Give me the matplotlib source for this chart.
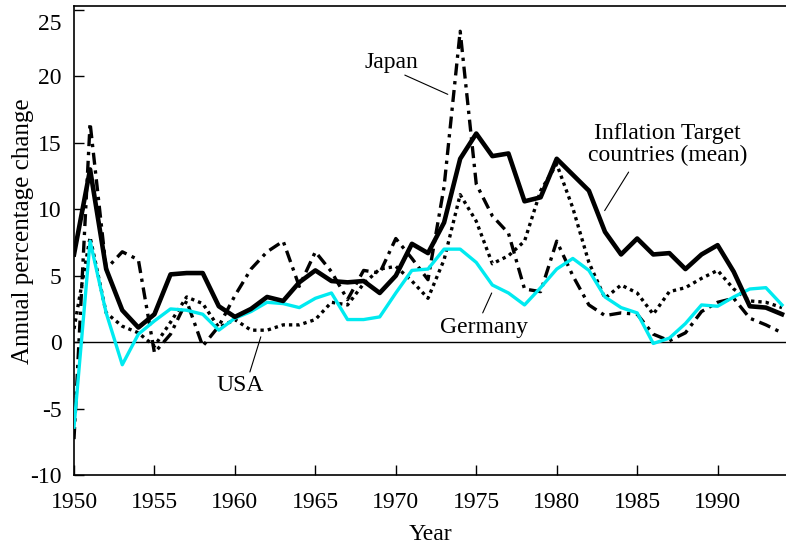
import numpy as np
import matplotlib
matplotlib.use("Agg")
import matplotlib.pyplot as plt
import matplotlib.transforms as mtransforms

# annual inflation, 1950-1994
years = np.arange(1950, 1995)

infl_target = [6.6, 13.0, 5.5, 2.4, 1.1, 2.1, 5.1, 5.2, 5.2, 2.7,
               1.9, 2.5, 3.4, 3.1, 4.5, 5.4, 4.6, 4.5, 4.6, 3.7,
               5.0, 7.4, 6.7, 9.0, 13.8, 15.7, 14.0, 14.2, 10.6, 10.9,
               13.8, 12.6, 11.4, 8.3, 6.6, 7.8, 6.6, 6.7, 5.5, 6.6,
               7.3, 5.3, 2.7, 2.6, 2.1]

germany = [-6.4, 7.6, 2.2, -1.7, 0.6, 1.6, 2.5, 2.4, 2.1, 0.9,
           1.8, 2.3, 3.0, 2.9, 2.6, 3.3, 3.7, 1.7, 1.7, 1.9,
           3.7, 5.4, 5.5, 7.0, 7.0, 6.0, 4.3, 3.7, 2.8, 4.1,
           5.5, 6.3, 5.4, 3.4, 2.6, 2.2, -0.1, 0.3, 1.4, 2.8,
           2.7, 3.4, 4.0, 4.1, 2.8]

usa = [1.0, 7.9, 2.2, 1.2, 0.7, -0.3, 1.5, 3.4, 2.9, 1.1,
       1.7, 0.9, 0.9, 1.3, 1.3, 1.7, 3.0, 2.8, 4.4, 5.5,
       5.7, 4.6, 3.3, 6.2, 11.1, 9.1, 5.9, 6.5, 7.6, 11.4,
       13.4, 10.1, 6.0, 3.3, 4.3, 3.7, 2.1, 3.8, 4.1, 4.8,
       5.4, 4.0, 3.1, 3.0, 2.6]

japan = [-7.3, 16.5, 5.5, 6.8, 6.2, -0.8, 0.6, 3.1, -0.3, 1.2,
         3.5, 5.5, 6.8, 7.6, 4.2, 6.8, 5.3, 3.2, 5.4, 5.2,
         7.8, 6.3, 4.7, 11.7, 23.4, 11.9, 9.5, 8.2, 4.0, 3.8,
         7.6, 5.0, 2.8, 2.0, 2.2, 2.1, 0.6, 0.1, 0.7, 2.3,
         3.0, 3.3, 1.8, 1.3, 0.7]

# label text, text position, leader line (start, end) in data units
labels = ['Japan', 'Inflation Target\ncountries (mean)', 'Germany', 'USA']
label_pos = [(1969.75, 21.05), (1986.9, 14.9), (1975.47, 1.1), (1960.3, -3.3)]
leader_from = [(1970.56, 20.1), (1984.47, 12.8), (1975.96, 3.7), (1961.61, 0.4)]
leader_to = [(1973.23, 18.65), (1982.98, 9.9), (1975.4, 2.2), (1960.93, -2.25)]

plt.rcParams['font.family'] = ['Liberation Serif', 'DejaVu Serif']
plt.rcParams['axes.unicode_minus'] = False

fig = plt.figure(figsize=(7.86, 5.45), dpi=100)
ax = fig.add_axes([74 / 786, 1 - 475 / 545, 1 - 74 / 786, (475 - 6) / 545])

ax.axhline(0, color='black', lw=1.0, zorder=1)

ax.plot(years, japan, color='black', lw=2.4, dashes=(3.6, 1.7, 1.0, 1.7), zorder=2)
ax.plot(years, usa, color='black', lw=2.4, dashes=(1.0, 1.2), zorder=2)
ax.plot(years, germany, color='#00eaf0', lw=2.4, zorder=3)
ax.plot(years, infl_target, color='black', lw=3.3, zorder=4)

ax.set_xlim(1950, 1994.25)
ax.set_ylim(-10, 25.3)
ax.set_xticks(np.arange(1950, 1991, 5))
ax.set_yticks(np.arange(-10, 26, 5))
ax.tick_params(direction='in', length=7, width=1, labelsize=17, color='black')
ax.tick_params(axis='x', pad=12)
ax.tick_params(axis='y', pad=9)
ax.spines['right'].set_visible(False)
for s in ['left', 'bottom', 'top']:
    ax.spines[s].set_linewidth(1.2)

# the top label sits a little lower in the original
lbl = ax.get_yticklabels()[-1]
lbl.set_transform(lbl.get_transform() + mtransforms.ScaledTranslation(0, -12 / 100, fig.dpi_scale_trans))

ax.set_xlabel('Year', fontsize=17, labelpad=8)
ax.set_ylabel('Annual percentage change', fontsize=18)
ax.yaxis.set_label_coords(-0.056, 0.52)

for text, pos, p0, p1 in zip(labels, label_pos, leader_from, leader_to):
    ax.text(pos[0], pos[1], text, fontsize=17, ha='center', va='center', linespacing=1.05)
    ax.annotate('', xy=p1, xytext=p0,
                arrowprops=dict(arrowstyle='-', lw=0.8, color='black', shrinkA=0, shrinkB=0))

fig.savefig('out.png', dpi=100)
